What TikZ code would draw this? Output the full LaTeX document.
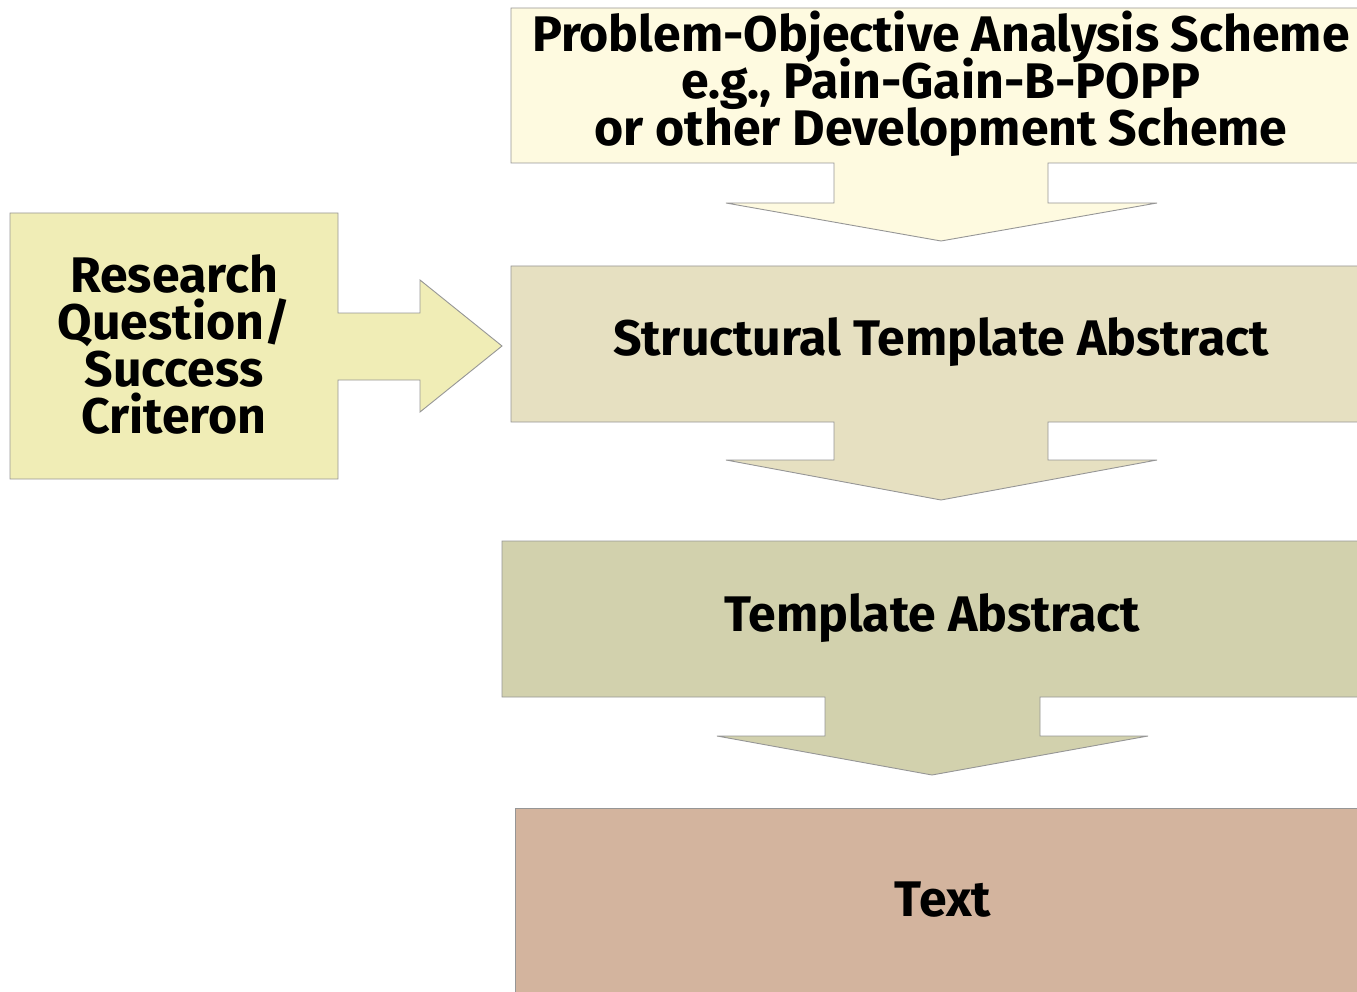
\documentclass[tikz,border=0pt]{standalone}
\usepackage{fontspec}
\setmainfont{Fira Sans}[UprightFont=* Bold, BoldFont=* Bold]
\definecolor{topfill}{RGB}{254,250,224}
\definecolor{structfill}{RGB}{230,224,193}
\definecolor{tmplfill}{RGB}{210,209,173}
\definecolor{textfill}{RGB}{211,180,158}
\definecolor{leftfill}{RGB}{240,237,182}
\definecolor{edge}{RGB}{150,150,150}
\newcommand{\lblfont}{\fontsize{50}{47}\selectfont\setlength{\lineskiplimit}{-100pt}}
\tikzset{
  blk/.style={draw=edge, line width=0.9pt, line join=miter},
  lbl/.style={inner sep=0pt, align=center, text=black, font=\lblfont},
}
\begin{document}
\begin{tikzpicture}[x=1pt,y=-1pt]
\useasboundingbox (0,0) rectangle (1357,992);
% top box with down arrow
\draw[blk, fill=topfill] (511,8) -- (1359,8) -- (1359,163) -- (1048,163) -- (1048,203) -- (1157,203) -- (941,241) -- (726,203) -- (834,203) -- (834,163) -- (511,163) -- cycle;
% structural box with down arrow
\draw[blk, fill=structfill] (511,266) -- (1359,266) -- (1359,422) -- (1048,422) -- (1048,460) -- (1157,460) -- (941,500) -- (726,460) -- (834,460) -- (834,422) -- (511,422) -- cycle;
% template box with down arrow
\draw[blk, fill=tmplfill] (502,541) -- (1359,541) -- (1359,697) -- (1040,697) -- (1040,736) -- (1148,736) -- (932,775) -- (717,736) -- (825,736) -- (825,697) -- (502,697) -- cycle;
% text box
\draw[blk, fill=textfill] (515,808) -- (1359,808) -- (1359,995) -- (515,995) -- cycle;
% left box with right arrow
\draw[blk, fill=leftfill] (10,213) -- (338,213) -- (338,313) -- (420,313) -- (420,280) -- (502,346) -- (420,412) -- (420,380) -- (338,380) -- (338,479) -- (10,479) -- cycle;
% labels
\node[lbl] (poa) at (941,84) {Problem-Objective Analysis Scheme\\e.g., Pain-Gain-B-POPP\\or other Development Scheme};
\node[lbl] (sta) at (941,342) {Structural Template Abstract};
\node[lbl] (ta) at (932,618) {Template Abstract};
\node[lbl] (txt) at (943,900) {Text};
\node[lbl] (rq) at (174,344) {Research\\Question/\\Success\\Criteron};
\end{tikzpicture}
\end{document}
